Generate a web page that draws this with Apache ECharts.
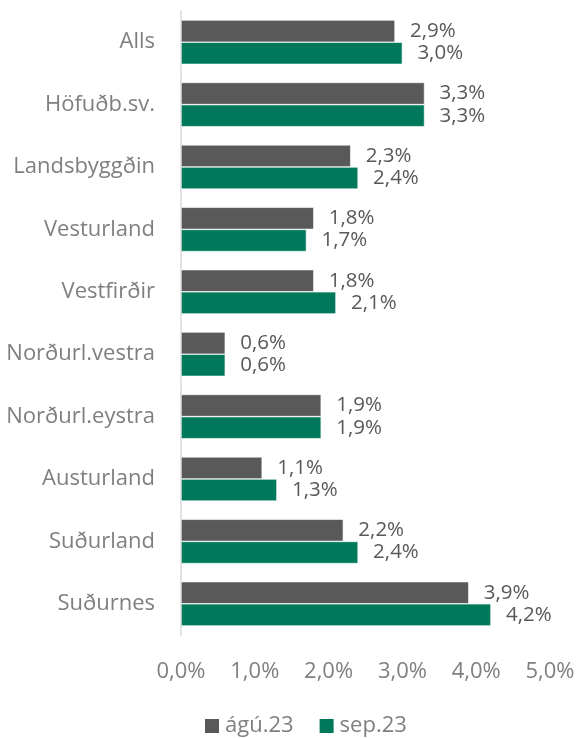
<!DOCTYPE html>
<html>
<head>
<meta charset="utf-8">
<script src="https://cdn.jsdelivr.net/npm/echarts@6/dist/echarts.min.js"></script>
<style>
    html, body { margin: 0; padding: 0; background: #fff; }
    #chart { width: 578px; height: 738px; }
</style>
</head>
<body>
<div id="chart"></div>
<script>
    const categories = [
        'Alls', 'Höfuðb.sv.', 'Landsbyggðin', 'Vesturland', 'Vestfirðir',
        'Norðurl.vestra', 'Norðurl.eystra', 'Austurland', 'Suðurland', 'Suðurnes'
    ];
    const seriesNames = ['ágú.23', 'sep.23'];
    const augValues = [2.9, 3.3, 2.3, 1.8, 1.8, 0.6, 1.9, 1.1, 2.2, 3.9];
    const sepValues = [3.0, 3.3, 2.4, 1.7, 2.1, 0.6, 1.9, 1.3, 2.4, 4.2];
    const colors = ['#595959', '#00785C'];

    const font = '"Open Sans", "Noto Sans", sans-serif';
    const pct = v => v.toFixed(1).replace('.', ',') + '%';

    const chart = echarts.init(document.getElementById('chart'));

    function makeSeries(name, values, color) {
        return {
            name: name,
            type: 'bar',
            data: values,
            barGap: '0%',
            barCategoryGap: '29%',
            itemStyle: { color: color, borderColor: '#ffffff', borderWidth: 0.6 },
            label: {
                show: true,
                position: 'right',
                distance: 15,
                color: '#595959',
                fontFamily: font,
                fontSize: 20.5,
                formatter: p => pct(p.value)
            }
        };
    }

    chart.setOption({
        animation: false,
        textStyle: { fontFamily: font },
        grid: { left: 181, right: 28, top: 11, bottom: 103, containLabel: false },
        xAxis: {
            type: 'value',
            min: 0,
            max: 5,
            interval: 1,
            splitLine: { show: false },
            axisLine: { show: false },
            axisTick: { show: false },
            axisLabel: {
                color: '#7f7f7f',
                fontSize: 22,
                fontFamily: font,
                margin: 26,
                formatter: v => pct(v)
            }
        },
        yAxis: {
            type: 'category',
            data: categories,
            inverse: true,
            axisLine: { show: true, lineStyle: { color: '#d9d9d9', width: 1.5 } },
            axisTick: { show: false },
            axisLabel: {
                color: '#7f7f7f',
                fontSize: 22,
                fontFamily: font,
                margin: 26
            }
        },
        legend: {
            bottom: -4,
            left: 198,
            itemWidth: 16,
            itemHeight: 16,
            itemGap: 24,
            icon: 'rect',
            textStyle: { color: '#7f7f7f', fontSize: 22, fontFamily: font }
        },
        series: [
            makeSeries(seriesNames[0], augValues, colors[0]),
            makeSeries(seriesNames[1], sepValues, colors[1])
        ]
    });
</script>
</body>
</html>
